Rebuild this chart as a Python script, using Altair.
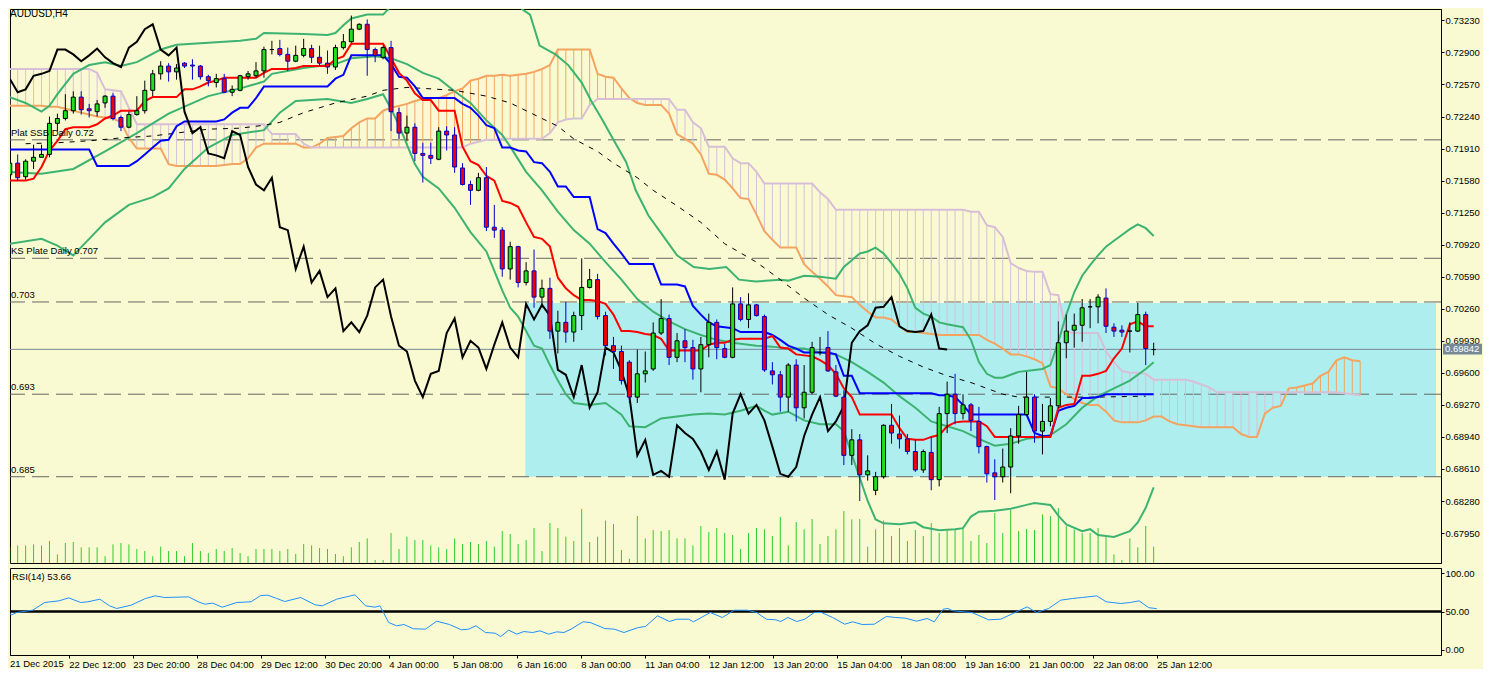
import altair as alt
import pandas as pd

# ---------------- values ----------------
bar_open = [0.7164,0.7176,0.7162,0.7178,0.7182,0.7185,0.7217,0.7222,0.7230,0.7244,
            0.7232,0.7229,0.7238,0.7245,0.7223,0.7213,0.7226,0.7230,0.7251,0.7268,
            0.7276,0.7270,0.7279,0.7277,0.7276,0.7265,0.7259,0.7263,0.7249,0.7251,
            0.7265,0.7266,0.7271,0.7293,0.7294,0.7288,0.7281,0.7287,0.7294,0.7285,
            0.7279,0.7275,0.7295,0.7301,0.7314,0.7319,0.7293,0.7285,0.7295,0.7228,
            0.7207,0.7213,0.7186,0.7184,0.7180,0.7209,0.7205,0.7171,0.7154,0.7148,
            0.7161,0.7110,0.7107,0.7067,0.7090,0.7053,0.7065,0.7038,0.7047,0.7003,
            0.7012,0.7002,0.7019,0.7048,0.7056,0.7019,0.6988,0.6982,0.6971,0.6935,
            0.6959,0.6964,0.7001,0.7016,0.6976,0.6993,0.6986,0.6964,0.6989,0.7012,
            0.6985,0.6976,0.7031,0.7015,0.7030,0.7018,0.6962,0.6958,0.6935,0.6968,
            0.6924,0.6940,0.6981,0.6986,0.6961,0.6935,0.6875,0.6891,0.6855,0.6839,
            0.6853,0.6906,0.6897,0.6892,0.6879,0.6860,0.6878,0.6850,0.6918,0.6938,
            0.6918,0.6927,0.6910,0.6884,0.6857,0.6853,0.6863,0.6895,0.6917,0.6935,
            0.6900,0.6910,0.6926,0.6991,0.7004,0.7009,0.7028,0.7028,0.7037,0.7007,
            0.7004,0.7003,0.7003,0.7020,0.6984]
bar_high = [0.7178,0.7185,0.7180,0.7195,0.7195,0.7224,0.7227,0.7247,0.7250,0.7250,
            0.7237,0.7241,0.7246,0.7248,0.7225,0.7229,0.7245,0.7261,0.7272,0.7281,
            0.7279,0.7278,0.7280,0.7283,0.7277,0.7267,0.7268,0.7268,0.7256,0.7267,
            0.7271,0.7280,0.7296,0.7302,0.7303,0.7295,0.7297,0.7304,0.7298,0.7297,
            0.7292,0.7298,0.7309,0.7328,0.7320,0.7324,0.7295,0.7297,0.7302,0.7233,
            0.7225,0.7217,0.7197,0.7197,0.7213,0.7214,0.7213,0.7176,0.7158,0.7166,
            0.7172,0.7133,0.7110,0.7095,0.7091,0.7074,0.7087,0.7056,0.7058,0.7024,
            0.7033,0.7023,0.7078,0.7067,0.7062,0.7023,0.6997,0.6988,0.6973,0.6984,
            0.6982,0.7012,0.7036,0.7020,0.7001,0.7005,0.6994,0.6997,0.7021,0.7015,
            0.6990,0.7048,0.7038,0.7042,0.7031,0.7020,0.6971,0.6962,0.6970,0.6974,
            0.6968,0.6992,0.6997,0.7003,0.6968,0.6942,0.6902,0.6897,0.6875,0.6858,
            0.6907,0.6928,0.6916,0.6897,0.6891,0.6881,0.6894,0.6925,0.6951,0.6959,
            0.6938,0.6929,0.6925,0.6885,0.6871,0.6882,0.6903,0.6926,0.6961,0.6938,
            0.6928,0.6934,0.7013,0.7020,0.7021,0.7036,0.7036,0.7041,0.7047,0.7011,
            0.7009,0.7012,0.7032,0.7023,0.6991]
bar_low = [0.7163,0.7158,0.7159,0.7170,0.7182,0.7182,0.7209,0.7220,0.7227,0.7226,
           0.7223,0.7224,0.7233,0.7220,0.7209,0.7212,0.7225,0.7227,0.7245,0.7262,
           0.7260,0.7262,0.7274,0.7262,0.7262,0.7255,0.7254,0.7248,0.7245,0.7250,
           0.7262,0.7264,0.7264,0.7288,0.7286,0.7271,0.7280,0.7285,0.7279,0.7276,
           0.7268,0.7272,0.7293,0.7300,0.7313,0.7266,0.7280,0.7283,0.7209,0.7201,
           0.7199,0.7178,0.7156,0.7175,0.7179,0.7189,0.7166,0.7153,0.7133,0.7147,
           0.7106,0.7099,0.7059,0.7056,0.7048,0.7050,0.7027,0.7027,0.6995,0.6980,
           0.6991,0.6992,0.7004,0.7047,0.7015,0.6978,0.6964,0.6948,0.6929,0.6929,
           0.6950,0.6962,0.6999,0.6968,0.6971,0.6971,0.6953,0.6940,0.6976,0.6974,
           0.6975,0.6975,0.7013,0.7006,0.7018,0.6961,0.6948,0.6920,0.6920,0.6910,
           0.6913,0.6938,0.6978,0.6961,0.6935,0.6865,0.6865,0.6828,0.6849,0.6834,
           0.6851,0.6887,0.6882,0.6876,0.6858,0.6857,0.6839,0.6843,0.6898,0.6907,
           0.6912,0.6900,0.6877,0.6847,0.6829,0.6847,0.6836,0.6887,0.6916,0.6888,
           0.6876,0.6905,0.6924,0.6975,0.6986,0.6992,0.7006,0.7011,0.7001,0.6997,
           0.6997,0.6981,0.7002,0.6968,0.6978]
bar_close = [0.7176,0.7161,0.7178,0.7182,0.7185,0.7217,0.7222,0.7230,0.7244,0.7231,
             0.7230,0.7237,0.7245,0.7222,0.7213,0.7226,0.7230,0.7251,0.7268,0.7276,
             0.7270,0.7274,0.7276,0.7276,0.7265,0.7261,0.7263,0.7249,0.7252,0.7266,
             0.7268,0.7271,0.7293,0.7293,0.7288,0.7281,0.7287,0.7294,0.7285,0.7279,
             0.7275,0.7295,0.7301,0.7314,0.7319,0.7293,0.7287,0.7295,0.7229,0.7207,
             0.7213,0.7186,0.7184,0.7181,0.7209,0.7205,0.7172,0.7154,0.7148,0.7161,
             0.7110,0.7107,0.7067,0.7090,0.7053,0.7065,0.7038,0.7047,0.7003,0.7012,
             0.7002,0.7019,0.7048,0.7056,0.7018,0.6988,0.6982,0.6952,0.6935,0.6959,
             0.6962,0.7001,0.7016,0.6976,0.6993,0.6986,0.6964,0.6989,0.7012,0.6986,
             0.6976,0.7031,0.7015,0.7030,0.7019,0.6963,0.6958,0.6935,0.6968,0.6924,
             0.6940,0.6986,0.6981,0.6962,0.6936,0.6875,0.6891,0.6855,0.6859,0.6853,
             0.6906,0.6898,0.6892,0.6879,0.6860,0.6879,0.6850,0.6918,0.6938,0.6918,
             0.6927,0.6911,0.6884,0.6856,0.6853,0.6863,0.6895,0.6917,0.6935,0.6900,
             0.6910,0.6926,0.6991,0.7003,0.7009,0.7027,0.7028,0.7038,0.7008,0.7003,
             0.7002,0.7003,0.7020,0.6985,0.6984]
tick_volume = [1570,1750,1750,1860,1750,2200,860,2000,2100,1570,
               1570,1570,680,1860,2000,1860,1400,1200,680,1640,
               1200,1200,680,2000,1200,1000,1400,1200,1500,1000,
               680,1400,1400,1400,1200,1400,900,1900,1750,1500,
               1400,900,680,1570,2100,2460,300,300,3000,1400,
               2640,2300,2300,1750,1570,1400,2460,1900,2100,1900,
               2200,1640,3200,2900,1900,2300,3500,1200,4000,3500,
               2640,2200,5400,2100,2640,4250,3900,1300,430,4700,
               2460,3300,3200,3300,2460,2460,1750,3700,3100,3500,
               3000,2800,1400,3000,3500,3360,2700,4600,1750,4100,
               3360,4400,1900,2700,3360,5200,4360,4400,1640,3360,
               4250,2700,3500,2200,3300,2700,4000,3000,3400,3400,
               3500,2200,2800,2000,5000,3000,5300,3200,3400,3300,
               4860,4700,5500,3700,3360,3000,3000,3500,2640,860,
               300,2460,1570,3700,1640]
tenkan = [0.7158,0.7158,0.7158,0.7160,0.7172,0.7189,0.7199,0.7211,0.7213,0.7213,
          0.7213,0.7216,0.7222,0.7225,0.7230,0.7230,0.7230,0.7240,0.7244,0.7244,
          0.7244,0.7244,0.7252,0.7252,0.7255,0.7259,0.7261,0.7264,0.7264,0.7264,
          0.7264,0.7264,0.7269,0.7273,0.7273,0.7273,0.7274,0.7276,0.7276,0.7276,
          0.7276,0.7283,0.7286,0.7299,0.7299,0.7299,0.7299,0.7299,0.7284,0.7269,
          0.7261,0.7248,0.7241,0.7241,0.7230,0.7230,0.7230,0.7193,0.7178,0.7174,
          0.7163,0.7158,0.7137,0.7135,0.7131,0.7115,0.7100,0.7098,0.7090,0.7058,
          0.7047,0.7040,0.7035,0.7035,0.7034,0.7031,0.7020,0.7003,0.7003,0.7002,
          0.7000,0.6999,0.6995,0.6983,0.6983,0.6983,0.6983,0.6983,0.6989,0.6991,
          0.6991,0.6994,0.6995,0.6995,0.6995,0.6995,0.6998,0.6986,0.6985,0.6979,
          0.6978,0.6977,0.6973,0.6968,0.6959,0.6944,0.6935,0.6917,0.6917,0.6917,
          0.6917,0.6917,0.6903,0.6892,0.6891,0.6891,0.6894,0.6896,0.6905,0.6909,
          0.6910,0.6910,0.6910,0.6905,0.6894,0.6894,0.6894,0.6894,0.6894,0.6894,
          0.6894,0.6894,0.6924,0.6927,0.6928,0.6957,0.6957,0.6959,0.6962,0.6975,
          0.6985,0.7010,0.7013,0.7008,0.7008]
kijun = [0.7190,0.7190,0.7190,0.7190,0.7190,0.7190,0.7190,0.7190,0.7190,0.7190,
         0.7190,0.7173,0.7173,0.7173,0.7173,0.7173,0.7178,0.7185,0.7192,0.7199,
         0.7200,0.7214,0.7219,0.7219,0.7219,0.7219,0.7219,0.7221,0.7228,0.7233,
         0.7233,0.7243,0.7255,0.7255,0.7255,0.7255,0.7255,0.7255,0.7255,0.7255,
         0.7255,0.7263,0.7267,0.7287,0.7287,0.7287,0.7287,0.7287,0.7278,0.7265,
         0.7264,0.7255,0.7243,0.7243,0.7243,0.7243,0.7243,0.7237,0.7233,0.7225,
         0.7215,0.7212,0.7192,0.7192,0.7189,0.7188,0.7177,0.7176,0.7167,0.7152,
         0.7152,0.7141,0.7141,0.7141,0.7108,0.7104,0.7093,0.7083,0.7072,0.7072,
         0.7072,0.7072,0.7051,0.7051,0.7051,0.7049,0.7029,0.7020,0.7012,0.7008,
         0.7007,0.7006,0.7002,0.7002,0.7002,0.7002,0.6999,0.6994,0.6988,0.6985,
         0.6981,0.6981,0.6981,0.6981,0.6979,0.6957,0.6957,0.6939,0.6939,0.6939,
         0.6939,0.6939,0.6939,0.6939,0.6939,0.6939,0.6939,0.6937,0.6937,0.6935,
         0.6927,0.6917,0.6917,0.6917,0.6917,0.6917,0.6917,0.6917,0.6917,0.6898,
         0.6895,0.6895,0.6921,0.6924,0.6926,0.6934,0.6934,0.6935,0.6938,0.6938,
         0.6938,0.6938,0.6938,0.6938,0.6938]
span_a = [0.7235,0.7235,0.7235,0.7235,0.7235,0.7234,0.7234,0.7232,0.7230,0.7228,
          0.7226,0.7224,0.7223,0.7222,0.7218,0.7202,0.7191,0.7191,0.7191,0.7191,
          0.7175,0.7173,0.7173,0.7173,0.7173,0.7173,0.7173,0.7174,0.7175,0.7175,
          0.7181,0.7192,0.7196,0.7196,0.7196,0.7196,0.7196,0.7192,0.7192,0.7196,
          0.7202,0.7203,0.7204,0.7212,0.7218,0.7222,0.7222,0.7230,0.7233,0.7235,
          0.7237,0.7240,0.7242,0.7243,0.7243,0.7246,0.7250,0.7253,0.7261,0.7263,
          0.7266,0.7266,0.7267,0.7266,0.7267,0.7268,0.7270,0.7273,0.7277,0.7293,
          0.7293,0.7293,0.7293,0.7293,0.7268,0.7265,0.7264,0.7253,0.7243,0.7238,
          0.7236,0.7236,0.7236,0.7227,0.7206,0.7201,0.7196,0.7185,0.7165,0.7164,
          0.7159,0.7150,0.7140,0.7139,0.7123,0.7106,0.7097,0.7089,0.7089,0.7089,
          0.7072,0.7064,0.7057,0.7049,0.7040,0.7039,0.7038,0.7030,0.7023,0.7017,
          0.7017,0.7015,0.7008,0.7002,0.7002,0.7001,0.7000,0.6999,0.6999,0.6999,
          0.6999,0.6999,0.6999,0.6994,0.6990,0.6985,0.6979,0.6979,0.6977,0.6974,
          0.6970,0.6946,0.6944,0.6938,0.6933,0.6929,0.6927,0.6927,0.6920,0.6911,
          0.6909,0.6909,0.6909,0.6911,0.6915,0.6915,0.6910,0.6907,0.6906,0.6905,
          0.6904,0.6904,0.6904,0.6904,0.6904,0.6897,0.6894,0.6894,0.6918,0.6924,
          0.6926,0.6944,0.6945,0.6947,0.6949,0.6957,0.6961,0.6973,0.6976,0.6973,
          0.6972]
span_b = [0.7273,0.7273,0.7273,0.7273,0.7273,0.7273,0.7273,0.7273,0.7273,0.7273,
          0.7273,0.7269,0.7252,0.7251,0.7250,0.7233,0.7216,0.7216,0.7216,0.7216,
          0.7216,0.7216,0.7216,0.7216,0.7216,0.7216,0.7216,0.7216,0.7216,0.7216,
          0.7216,0.7216,0.7216,0.7206,0.7206,0.7206,0.7206,0.7196,0.7192,0.7192,
          0.7192,0.7192,0.7192,0.7192,0.7192,0.7192,0.7192,0.7192,0.7192,0.7192,
          0.7192,0.7192,0.7192,0.7192,0.7192,0.7192,0.7192,0.7192,0.7196,0.7198,
          0.7200,0.7200,0.7201,0.7201,0.7201,0.7201,0.7201,0.7201,0.7207,0.7218,
          0.7221,0.7222,0.7222,0.7236,0.7242,0.7242,0.7242,0.7242,0.7242,0.7242,
          0.7242,0.7242,0.7242,0.7242,0.7231,0.7231,0.7218,0.7212,0.7193,0.7193,
          0.7193,0.7181,0.7176,0.7176,0.7167,0.7155,0.7155,0.7155,0.7155,0.7155,
          0.7155,0.7155,0.7146,0.7139,0.7128,0.7128,0.7128,0.7128,0.7128,0.7128,
          0.7128,0.7128,0.7128,0.7128,0.7128,0.7128,0.7128,0.7128,0.7128,0.7128,
          0.7128,0.7126,0.7126,0.7112,0.7110,0.7100,0.7073,0.7068,0.7065,0.7064,
          0.7064,0.7041,0.7040,0.7003,0.7001,0.7001,0.7001,0.7001,0.6982,0.6971,
          0.6962,0.6960,0.6960,0.6959,0.6953,0.6953,0.6953,0.6953,0.6953,0.6951,
          0.6948,0.6945,0.6940,0.6940,0.6940,0.6940,0.6940,0.6940,0.6940,0.6940,
          0.6940,0.6940,0.6940,0.6940,0.6940,0.6940,0.6940,0.6940,0.6939,0.6938,
          0.6937]
bb_upper = [(0,0.7244),(2,0.7238),(4,0.7229),(5,0.7235),(6,0.7247),(8,0.7268),(10,0.7277),
            (12,0.7280),(14,0.7276),(16,0.7280),(19,0.7293),(21,0.7298),(25,0.7300),(29,0.7302),
            (31,0.7304),(32,0.7310),(37,0.7309),(40,0.7308),(41,0.7310),(42,0.7318),(43,0.7325),
            (45,0.7329),(47,0.7329),(47.7,0.7335)]
bb_upper_2 = [(64.4,0.7335),(65.5,0.7329),(66.7,0.7297),(68.7,0.7288),(70.3,0.7277),(72,0.7259),
              (73.2,0.7240),(74.5,0.7222),(76,0.7200),(77.6,0.7177),(78.8,0.7148),(80.4,0.7122),
              (82,0.7104),(84,0.7081),(86.1,0.7069),(88.1,0.7067),(90.2,0.7069),(91.8,0.7056),
              (93.9,0.7054),(97,0.7056),(98,0.7055),(100,0.7060),(102,0.7059),(104,0.7057),
              (105,0.7069),(106,0.7076),(107,0.7083),(108,0.7085),(109,0.7089),(110,0.7083),
              (111,0.7073),(112,0.7062),(113,0.7047),(114,0.7027),(115,0.7021),(116,0.7018),
              (117,0.7012),(118,0.7010),(120,0.7007),(121,0.6994),(122,0.6971),(123,0.6959),
              (124,0.6955),(125,0.6955),(126,0.6958),(127,0.6961),(129,0.6963),(130,0.6964),
              (131,0.6968),(132,0.6992),(133,0.7020),(134,0.7043),(135,0.7060),(136,0.7071),
              (137,0.7081),(138,0.7090),(139,0.7096),(140,0.7102),(141,0.7108),(142,0.7113),
              (143,0.7109),(144,0.7101)]
bb_middle = [(0,0.7167),(4,0.7165),(8,0.7170),(12,0.7188),(16,0.7207),(20,0.7227),(25,0.7245),
             (29,0.7253),(32,0.7260),(33,0.7268),(37,0.7274),(41,0.7278),(43,0.7284),(46,0.7286),
             (48,0.7284),(50,0.7278),(52,0.7269),(54,0.7263),(56,0.7250),(58,0.7238),(60,0.7220),
             (62,0.7205),(63,0.7193),(65,0.7167),(67,0.7148),(69,0.7126),(71,0.7107),(73,0.7093),
             (75,0.7074),(77,0.7056),(79,0.7036),(81,0.7023),(83,0.7013),(85,0.7005),(87,0.6999),
             (89,0.6994),(91,0.6991),(94,0.6988),(96,0.6987),(98,0.6985),(100,0.6985),(102,0.6981),
             (104,0.6979),(106,0.6971),(108,0.6961),(110,0.6950),(112,0.6936),(114,0.6924),
             (116,0.6910),(118,0.6905),(120,0.6900),(122,0.6892),(124,0.6885),(126,0.6887),
             (128,0.6892),(130,0.6894),(131,0.6896),(133,0.6907),(135,0.6924),(137,0.6936),
             (139,0.6944),(141,0.6952),(143,0.6964),(144,0.6971)]
bb_lower = [(0,0.7093),(4,0.7098),(6,0.7091),(8,0.7081),(10,0.7098),(12,0.7115),(15,0.7133),
            (18,0.7141),(20,0.7150),(22,0.7170),(25,0.7192),(28,0.7205),(32,0.7210),(34,0.7228),
            (36,0.7240),(40,0.7242),(43,0.7238),(45,0.7242),(47,0.7247),(48,0.7232),(49,0.7215),
            (50,0.7195),(51,0.7175),(52,0.7162),(54,0.7150),(56,0.7130),(58,0.7105),(60,0.7085),
            (62,0.7045),(63,0.7027),(64,0.7018),(65,0.7003),(66,0.6988),(67,0.6985),(68,0.6968),
            (69,0.6952),(70,0.6938),(71,0.6929),(73,0.6927),(75,0.6929),(77,0.6917),(78,0.6905),
            (80,0.6904),(82,0.6913),(84,0.6915),(86,0.6917),(88,0.6918),(90,0.6917),(92,0.6921),
            (94,0.6926),(95,0.6921),(96,0.6917),(98,0.6920),(100,0.6911),(102,0.6907),(104,0.6907),
            (105,0.6900),(106,0.6876),(107,0.6852),(108,0.6828),(109,0.6809),(110,0.6805),
            (112,0.6804),(114,0.6806),(115,0.6801),(117,0.6798),(119,0.6799),(120,0.6800),
            (121,0.6812),(122,0.6817),(124,0.6818),(126,0.6820),(128,0.6824),(129,0.6826),
            (131,0.6824),(132,0.6813),(133,0.6804),(135,0.6797),(136,0.6799),(137,0.6793),
            (139,0.6791),(141,0.6797),(142,0.6806),(143,0.6821),(144,0.6842)]
ma_dashed = [(2,0.7196),(6,0.7197),(10,0.7199),(14,0.7202),(18,0.7204),(21,0.7207),(25,0.7211),
             (29,0.7212),(32,0.7215),(34,0.7218),(37,0.7228),(41,0.7238),(45,0.7245),(47,0.7251),
             (50,0.7254),(52,0.7253),(56,0.7251),(60,0.7245),(63,0.7238),(66,0.7226),(69,0.7214),
             (71,0.7201),(74,0.7188),(76,0.7176),(79,0.7161),(81,0.7148),(84,0.7132),(87,0.7115),
             (90,0.7093),(94,0.7074),(97,0.7056),(100,0.7037),(103,0.7020),(106,0.7006),
             (109,0.6990),(112,0.6977),(115,0.6966),(118,0.6957),(121,0.6950),(123,0.6944),
             (125,0.6938),(127,0.6935),(131,0.6935),(137,0.6935),(143,0.6936)]
rsi_points = [(0,49.6),(0.9,45.7),(1.5,48.7),(3.5,51.7),(5,61.7),(6.8,63.9),(8,67.7),(9.5,61.7),
              (10.4,62.6),(11.9,66),(13.1,57.4),(14,53.9),(15.8,58.2),(17.6,66.9),(18.8,70.3),
              (20,68.2),(23,69),(24.2,62.6),(25,59.5),(26,60.8),(27.2,55.6),(29,61.7),(30.8,62.6),
              (32,70.8),(32.9,71.2),(34,66.9),(35,63),(37,68.2),(38.8,58.7),(39.7,57.4),(41.5,66),
              (42.7,69),(43.8,71.6),(45.1,57.4),(46.3,55.6),(46.9,57.4),(48,35.7),(49,31.4),
              (49.9,33.1),(51.1,27.5),(52.6,27.1),(54,37.4),(55.6,33.1),(57.1,26.2),(58,27.1),
              (58.9,31.4),(60.1,22.7),(61.3,21.9),(62,17.5),(63,25.8),(64,20.6),(64.9,24),
              (66,22.7),(66.9,24.9),(68,20.6),(69,23.6),(69.9,22.7),(70.8,27.1),(72.3,36.6),
              (73.2,35.7),(75,27.9),(76.2,27.1),(77.4,22.7),(79.2,29.2),(80.1,30.5),(81.6,44.4),
              (83.1,37),(84,40),(85.5,40),(86.1,36.6),(88.2,48.7),(89.7,42.2),(91.2,51.7),
              (92.8,51.7),(94,48.7),(95.2,40),(96.4,39.2),(97,37),(97.9,42.2),(99,37),(100,40),
              (101.2,48.7),(102.1,48.7),(103.5,42.2),(105,33.5),(106,36.6),(107.2,33.1),
              (108.7,33.5),(110.2,43.5),(111.4,42.2),(112.6,41.3),(114,37.4),(115.3,40.9),
              (116.2,36.6),(117.3,53),(117.9,53.9),(118.5,50.9),(120.9,48.7),(123,39.2),
              (124.5,40),(126.3,48.7),(127.8,56),(129,48.7),(130.5,53.9),(132,64.7),(133.5,66.9),
              (134.7,68.2),(136.5,70.3),(137.7,62.6),(139.5,60.4),(140.7,61.7),(141.8,63.9),
              (143,55),(144,53.7)]
level_names = ["Plat SSB Daily 0.72", "KS Plate Daily 0.707", "0.703", "0.693", "0.685"]
level_prices = [0.7200, 0.7078, 0.7033, 0.6938, 0.6853]
zone_bars = [64.9, 179.54]
zone_prices = [0.6853, 0.7032]
last_price = 0.69842
price_ticks = [0.6795,0.6828,0.6861,0.6894,0.6927,0.6960,0.6993,0.7026,0.7059,0.7092,
               0.7125,0.7158,0.7191,0.7224,0.7257,0.7290,0.7323]
time_labels = ['21 Dec 2015','22 Dec 12:00','23 Dec 20:00','28 Dec 04:00','29 Dec 12:00',
               '30 Dec 20:00','4 Jan 00:00','5 Jan 08:00','6 Jan 16:00','8 Jan 00:00',
               '11 Jan 04:00','12 Jan 12:00','13 Jan 20:00','15 Jan 04:00','18 Jan 08:00',
               '19 Jan 16:00','21 Jan 00:00','22 Jan 08:00','25 Jan 12:00']

# ---------------- layout / styles ----------------
BG = "#fafad2"
FONT = "Liberation Sans"
FS = 9.5
W, HM, HR = 1431, 554, 87
XS = alt.Scale(domain=[0.6625, 179.54], nice=False, zero=False)
YS = alt.Scale(domain=[0.676414, 0.733476], nice=False, zero=False)
RS = alt.Scale(domain=[-6.5, 106.5], nice=False, zero=False)
VS = alt.Scale(domain=[0, 55400], nice=False, zero=False)


def xq(f="i"):
    return alt.X(f"{f}:Q", scale=XS, axis=None)


def yq(f="p", axis=None):
    return alt.Y(f"{f}:Q", scale=YS, axis=axis)


def pts(lst, seg=0):
    return pd.DataFrame({"i": [a for a, _ in lst], "p": [b for _, b in lst], "seg": seg})


def line(df, color, width, dash=None):
    kw = dict(color=color, strokeWidth=width, clip=True)
    if dash:
        kw["strokeDash"] = dash
    return alt.Chart(df).mark_line(**kw).encode(x=xq(), y=yq(), detail="seg:N")


n = len(bar_close)
cd = pd.DataFrame({"i": range(n), "o": bar_open, "h": bar_high, "l": bar_low,
                   "c": bar_close, "v": tick_volume})
cd["top"] = cd[["o", "c"]].max(axis=1)
cd["bot"] = cd[["o", "c"]].min(axis=1)
bull = cd["c"] >= cd["o"]
cd["fill"] = ["#1ee01e" if b else "#f00000" for b in bull]
cd["edge"] = ["#000000" if b else "#0000cd" for b in bull]
cd["z"] = 0

m = len(span_a)
cloud = pd.DataFrame({"i": range(m), "a": span_a, "b": span_b})
cloud["cl"] = ["#f4a460" if a >= b else "#d8bfd8" for a, b in zip(span_a, span_b)]

tk = pd.DataFrame({"i": range(n), "p": tenkan, "seg": 0})
kj = pd.DataFrame({"i": range(n), "p": kijun, "seg": 0})
sa = pd.DataFrame({"i": range(m), "p": span_a, "seg": 0})
sb = pd.DataFrame({"i": range(m), "p": span_b, "seg": 0})
chikou = pd.DataFrame({"i": range(n - 26), "p": bar_close[26:], "seg": 0})
upper = pd.concat([pts(bb_upper, 0), pts(bb_upper_2, 1)])

levels = pd.DataFrame({"t": level_names, "p": level_prices})
zone = pd.DataFrame({"x0": [zone_bars[0]], "x1": [zone_bars[1]],
                     "y0": [zone_prices[0]], "y1": [zone_prices[1]]})
lastdf = pd.DataFrame({"p": [last_price], "p0": [0.6990], "p1": [0.6979],
                       "t": [f"{last_price:.5f}"]})

price_axis = alt.Axis(orient="right", values=price_ticks,
                      labelExpr="format(datum.value, '.5f')", tickSize=3,
                      labelPadding=1, title=None, grid=False)

layers = [
    alt.Chart(zone).mark_rect(color="#afeeee", clip=True).encode(
        x=alt.X("x0:Q", scale=XS, axis=None), x2="x1:Q", y=yq("y0"), y2="y1:Q"),
    alt.Chart(levels).mark_rule(color="#666666", strokeWidth=1, strokeDash=[17, 7]).encode(y=yq()),
    alt.Chart(lastdf).mark_rule(color="#778899", strokeWidth=1).encode(y=yq()),
    alt.Chart(cd).mark_rule(color="#2ecc2e", strokeWidth=1, clip=True).encode(
        x=xq(), y=alt.Y("v:Q", scale=VS, axis=None), y2="z:Q"),
    alt.Chart(cloud).mark_rule(strokeWidth=1, clip=True).encode(
        x=xq(), y=yq("a"), y2="b:Q", color=alt.Color("cl:N", scale=None)),
    line(sa, "#f4a460", 2),
    line(sb, "#d8bfd8", 2),
    line(upper, "#3cb371", 2),
    line(pts(bb_middle), "#3cb371", 2),
    line(pts(bb_lower), "#3cb371", 2),
    line(pts(ma_dashed), "#000000", 1, [5, 6]),
    line(kj, "#0000ff", 2),
    line(tk, "#ff0000", 2),
    line(chikou, "#000000", 2),
    alt.Chart(cd).mark_rule(strokeWidth=1, clip=True).encode(
        x=xq(), y=yq("l", price_axis), y2="h:Q", color=alt.Color("edge:N", scale=None)),
    alt.Chart(cd).mark_bar(size=4, strokeWidth=1, clip=True).encode(
        x=xq(), y=yq("top"), y2="bot:Q",
        fill=alt.Fill("fill:N", scale=None), stroke=alt.Stroke("edge:N", scale=None)),
    alt.Chart(levels).mark_text(align="left", baseline="bottom", dy=-2, font=FONT,
                                fontSize=FS, color="black").encode(
        x=alt.value(1), y=yq(), text="t:N"),
    alt.Chart(pd.DataFrame({"t": ["AUDUSD,H4"]})).mark_text(
        align="left", baseline="top", font=FONT, fontSize=10, color="black").encode(
        x=alt.value(0), y=alt.value(0), text="t:N"),
    alt.Chart(lastdf).mark_rect(color="#778899").encode(
        x=alt.value(1433), x2=alt.value(1472), y=yq("p0"), y2="p1:Q"),
    alt.Chart(lastdf).mark_text(align="left", baseline="middle", font=FONT, fontSize=FS,
                                color="white").encode(
        x=alt.value(1435), y=yq(), text="t:N"),
]
main = alt.layer(*layers).resolve_scale(y="independent").properties(width=W, height=HM)

rsi_df = pd.DataFrame({"i": [a for a, _ in rsi_points], "r": [b for _, b in rsi_points]})
label_expr = "[" + ",".join(f"'{s}'" for s in time_labels) + "][round(datum.value/8)]"
x_axis = alt.Axis(values=list(range(8, 145, 8)), labelExpr=label_expr, labelAlign="left",
                  labelBaseline="top", tickSize=3, labelPadding=1, title=None, grid=False,
                  labelOverlap=False, labelFlush=False)
rsi_axis = alt.Axis(orient="right", values=[0, 50, 100], labelExpr="format(datum.value, '.2f')",
                    tickSize=3, labelPadding=1, title=None, grid=False)

rsi = alt.layer(
    alt.Chart(pd.DataFrame({"r": [50]})).mark_rule(color="black", strokeWidth=2.5).encode(
        y=alt.Y("r:Q", scale=RS, axis=rsi_axis)),
    alt.Chart(rsi_df).mark_line(color="#1e90ff", strokeWidth=1, clip=True).encode(
        x=alt.X("i:Q", scale=XS, axis=x_axis), y=alt.Y("r:Q", scale=RS, axis=rsi_axis)),
    alt.Chart(pd.DataFrame({"t": ["RSI(14) 53.66"]})).mark_text(
        align="left", baseline="top", font=FONT, fontSize=FS, color="black").encode(
        x=alt.value(2), y=alt.value(4), text="t:N"),
    alt.Chart(pd.DataFrame({"t": [time_labels[0]]})).mark_text(
        align="left", baseline="top", font=FONT, fontSize=FS, color="black").encode(
        x=alt.value(0), y=alt.value(HR + 4), text="t:N"),
).properties(width=W, height=HR)

chart = (
    alt.vconcat(main, rsi, spacing=3)
    .resolve_scale(y="independent")
    .properties(padding=0, background=BG)
    .configure_view(stroke="black", strokeWidth=1, fill=BG)
    .configure_axis(labelFont=FONT, labelFontSize=FS, labelColor="black",
                    domainColor="black", tickColor="black", domainWidth=1, tickWidth=1)
)
chart.save("out.html", embed_options={"renderer": "svg", "actions": False})
